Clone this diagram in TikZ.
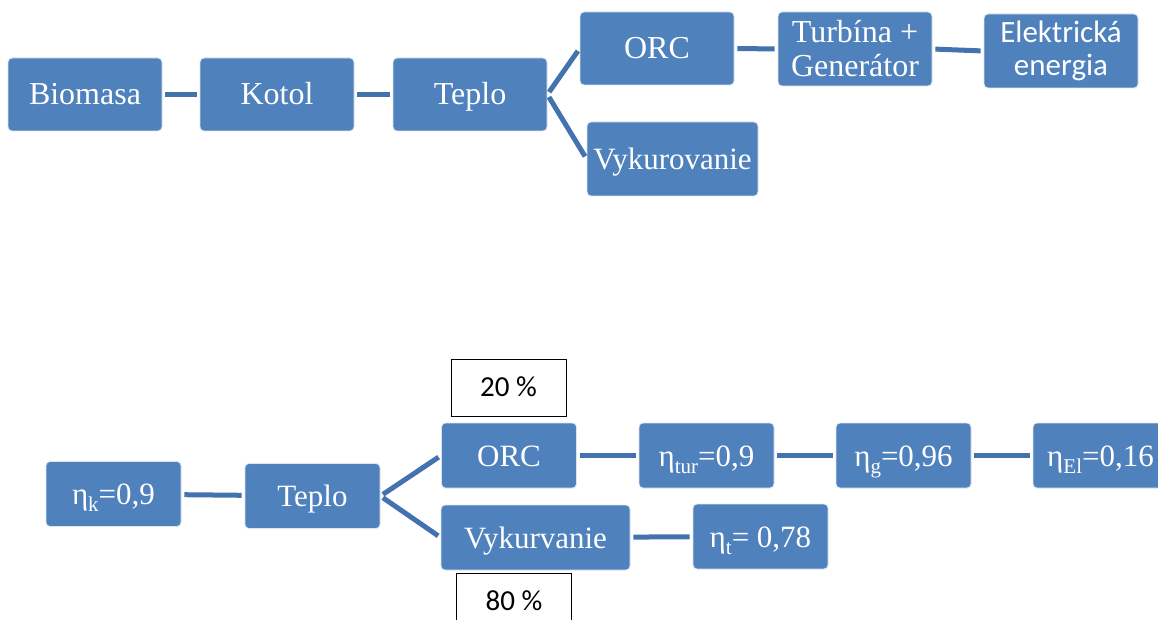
\documentclass[tikz,border=0pt]{standalone}
\usepackage{fontspec}
\setmainfont{Liberation Serif}
\newfontfamily\calib{Carlito}
\definecolor{boxblue}{HTML}{4F81BD}
\definecolor{linkblue}{HTML}{4472AE}
\definecolor{edgeblue}{HTML}{DCE6F2}
\newcommand\sbs[1]{\raisebox{-7pt}[0pt][0pt]{\fontsize{21}{21}\selectfont #1}}
\tikzset{
  blk/.style={draw=edgeblue, line width=0.8pt, fill=boxblue, rounded corners=4pt,
    text=white, inner sep=0pt, align=center, font=\fontsize{32}{34}\selectfont},
  one/.style={text height=21pt, text depth=0pt},
  top/.style={blk, minimum width=154pt, minimum height=73pt},
  bot/.style={blk, one, minimum width=135pt, minimum height=65pt, font=\fontsize{31}{33}\selectfont},
  link/.style={draw=linkblue, line width=5pt, shorten <=3pt, shorten >=3pt},
  pct/.style={draw=black, line width=0.8pt, fill=white, inner sep=0pt,
    text height=18.5pt, text depth=0pt,
    minimum width=115pt, minimum height=57pt, font=\calib\fontsize{29}{31}\selectfont}
}
\begin{document}
\begin{tikzpicture}[x=1pt,y=-1pt]
\useasboundingbox (0,0) rectangle (1158,620);
\clip (0,0) rectangle (1158,620);
% top diagram
\node[top, one] (bio) at (85,94.5) {Biomasa};
\node[top, one] (kot) at (277,94.5) {Kotol};
\node[top, one] (tep) at (470,94.5) {Teplo};
\node[top, one] (orc) at (657,48.5) {ORC};
\node[top, minimum height=74pt] (tur) at (855,49) {Turbína +\\Generátor};
\node[top, minimum height=74pt, font=\calib\fontsize{31}{33}\selectfont] (ele) at (1061,51) {Elektrická\\energia};
\node[top, one, minimum width=171pt, minimum height=74pt, font=\fontsize{31}{33}\selectfont] (vyk) at (672.5,159) {Vykurovanie};
\draw[link] (bio) -- (kot);
\draw[link] (kot) -- (tep);
\draw[link] (tep.east) -- (orc.west);
\draw[link] (tep.east) -- (vyk.west);
\draw[link] (orc) -- (tur);
\draw[link] (tur.east) -- (ele.west);
% bottom diagram
\node[bot] (ek) at (113.5,494) {η\sbs{k}=0,9};
\node[bot] (tep2) at (312.5,496) {Teplo};
\node[bot] (orc2) at (509,455.5) {ORC};
\node[bot, minimum width=189pt] (vyk2) at (535.5,537.5) {Vykurvanie};
\node[bot] (etur) at (706.5,455.5) {η\sbs{tur}=0,9};
\node[bot] (eg) at (903.5,455.5) {η\sbs{g}=0,96};
\node[bot] (eel) at (1100.5,455.5) {η\sbs{El}=0,16};
\node[bot] (et) at (760.5,536.5) {η\sbs{t}= 0,78};
\node[pct] (p20) at (508.5,387.5) {20 \%};
\node[pct] (p80) at (514,601.5) {80 \%};
\draw[link] (ek) -- (tep2);
\draw[link] (tep2.east) -- (orc2.west);
\draw[link] (tep2.east) -- (vyk2.west);
\draw[link] (orc2) -- (etur);
\draw[link] (etur) -- (eg);
\draw[link] (eg) -- (eel);
\draw[link] (vyk2) -- (et);
\end{tikzpicture}
\end{document}
